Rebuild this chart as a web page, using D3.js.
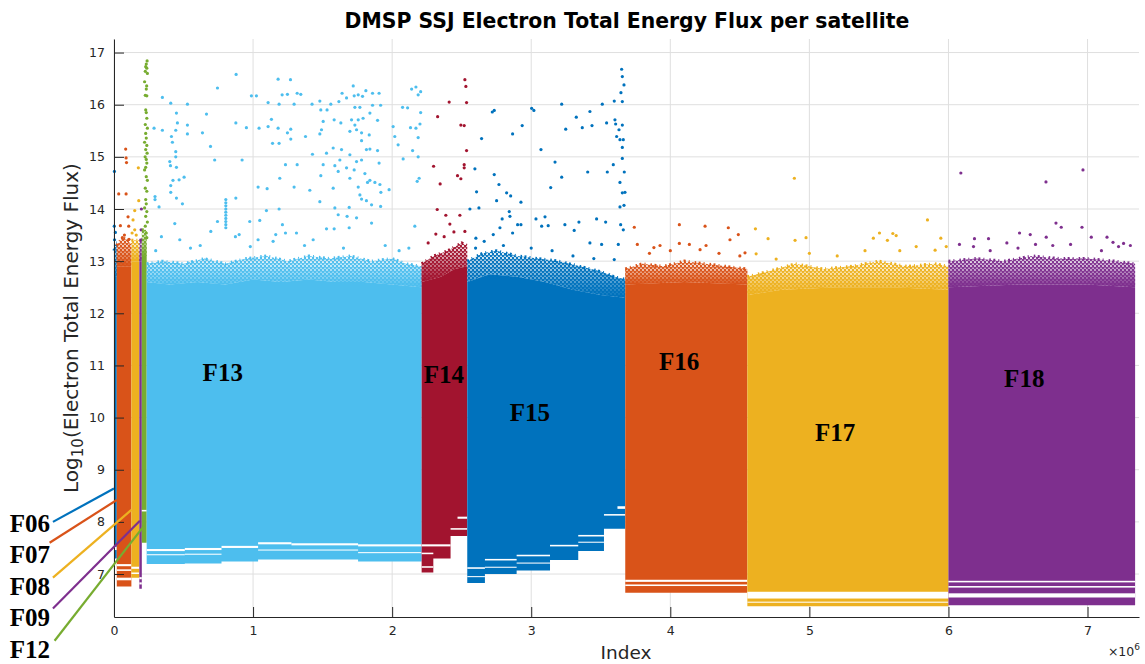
<!DOCTYPE html>
<html>
<head>
<meta charset="utf-8">
<script src="https://cdn.jsdelivr.net/npm/d3@7"></script>
<style>
  body { margin: 0; background: #fff; }
  text { font-family: "DejaVu Sans", sans-serif; fill: #262626; }
  .sat-label { font-family: "Liberation Serif", serif; font-weight: bold; font-size: 25px; fill: #000; }
  .tick text { font-size: 12.5px; }
</style>
</head>
<body>
<div id="chart"></div>
<script>
  // satellites, in index order (index in units of 1e6)
  var sats = ['F06', 'F07', 'F08', 'F09', 'F12', 'F13', 'F14', 'F15', 'F16', 'F17', 'F18'];
  var satColors = ['#0072BD', '#D95319', '#EDB120', '#7E2F8E', '#77AC30', '#4DBEEE',
                   '#A2142F', '#0072BD', '#D95319', '#EDB120', '#7E2F8E'];

  // top of the solid band: [index, log10 flux]
  var coreTops = [
    [[0, 12.7], [0.02, 12.7]],
    [[0.02, 12.9], [0.125, 12.9]],
    [[0.125, 13.0], [0.182, 13.0]],
    [[0.182, 13.0], [0.2, 13.0]],
    [[0.2, 13.1], [0.235, 13.1]],
    [[0.235, 12.6], [0.4, 12.55], [0.6, 12.6], [0.8, 12.55], [1.0, 12.65], [1.2, 12.6], [1.4, 12.65],
     [1.6, 12.6], [1.8, 12.6], [2.0, 12.55], [2.212, 12.5]],
    [[2.212, 12.6], [2.35, 12.7], [2.45, 12.85], [2.54, 12.9]],
    [[2.54, 12.6], [2.7, 12.75], [2.9, 12.7], [3.1, 12.6], [3.3, 12.45], [3.5, 12.35], [3.676, 12.3]],
    [[3.676, 12.55], [4.1, 12.6], [4.554, 12.55]],
    [[4.554, 12.35], [4.8, 12.45], [5.2, 12.5], [5.6, 12.5], [6.0, 12.45]],
    [[6.0, 12.5], [6.5, 12.55], [7.0, 12.55], [7.342, 12.5]]
  ];

  // upper edge of the speckled fringe above the solid band
  var fringeTops = [
    [[0, 13.2], [0.02, 13.4]],
    [[0.02, 13.3], [0.06, 13.45], [0.1, 13.4], [0.125, 13.3]],
    [[0.125, 13.4], [0.182, 13.4]],
    [[0.182, 13.4], [0.2, 13.4]],
    [[0.2, 13.6], [0.235, 13.6]],
    [[0.235, 12.95], [0.35, 13.0], [0.5, 12.95], [0.65, 13.05], [0.8, 12.95], [0.95, 13.05], [1.1, 13.1],
     [1.25, 13.0], [1.4, 13.1], [1.55, 13.05], [1.7, 13.1], [1.85, 13.0], [2.0, 13.05], [2.1, 12.95], [2.212, 12.9]],
    [[2.212, 12.95], [2.3, 13.1], [2.4, 13.2], [2.5, 13.35], [2.54, 13.3]],
    [[2.54, 13.0], [2.65, 13.15], [2.75, 13.2], [2.9, 13.1], [3.05, 13.05], [3.2, 13.0], [3.35, 12.9],
     [3.5, 12.8], [3.6, 12.7], [3.676, 12.65]],
    [[3.676, 12.85], [3.8, 12.95], [3.95, 12.9], [4.1, 13.0], [4.25, 12.95], [4.4, 12.9], [4.554, 12.85]],
    [[4.554, 12.7], [4.7, 12.8], [4.9, 12.95], [5.1, 12.85], [5.3, 12.9], [5.5, 13.0], [5.7, 12.9],
     [5.9, 12.95], [6.0, 12.9]],
    [[6.0, 13.0], [6.2, 13.05], [6.4, 13.0], [6.6, 13.1], [6.8, 13.05], [7.0, 13.05], [7.2, 13.0], [7.342, 12.95]]
  ];

  // lower floor steps: [index from, index to, lowest value]
  var floors = [
    [[0, 0.02, 7.3]],
    [[0.02, 0.125, 6.76]],
    [[0.125, 0.182, 6.93]],
    [[0.182, 0.2, 6.72]],
    [[0.2, 0.235, 7.6]],
    [[0.235, 0.509, 7.19], [0.509, 0.773, 7.2], [0.773, 1.036, 7.24], [1.036, 1.276, 7.28],
     [1.276, 1.755, 7.28], [1.755, 2.212, 7.24]],
    [[2.212, 2.296, 7.03], [2.296, 2.42, 7.3], [2.42, 2.54, 7.73]],
    [[2.54, 2.667, 6.83], [2.667, 2.895, 7.0], [2.895, 3.135, 7.07], [3.135, 3.338, 7.27],
     [3.338, 3.523, 7.44], [3.523, 3.676, 7.87]],
    [[3.676, 4.554, 6.64]],
    [[4.554, 6.0, 6.38]],
    [[6.0, 7.342, 6.4]]
  ];

  // empty bands inside the floor: [index from, index to, value low, value high]
  var gaps = [
    [[0, 0.02, 7.46, 7.52]],
    [[0.02, 0.125, 7.15, 7.19], [0.02, 0.125, 7.06, 7.09], [0.02, 0.125, 6.88, 6.93]],
    [[0.125, 0.182, 7.10, 7.14], [0.125, 0.182, 7.0, 7.03]],
    [[0.182, 0.2, 6.9, 6.94], [0.182, 0.2, 6.8, 6.84]],
    [[0.2, 0.235, 8.2, 8.23]],
    [[0.235, 0.509, 7.44, 7.48], [0.509, 0.773, 7.46, 7.5], [0.773, 1.036, 7.5, 7.54], [1.036, 1.276, 7.57, 7.61],
     [1.276, 1.755, 7.55, 7.59], [1.755, 2.212, 7.53, 7.57],
     [0.235, 0.509, 7.36, 7.38], [0.509, 0.773, 7.37, 7.39], [1.036, 1.755, 7.45, 7.47], [1.755, 2.212, 7.4, 7.42]],
    [[2.212, 2.42, 7.53, 7.57], [2.212, 2.296, 7.38, 7.41], [2.212, 2.296, 7.12, 7.15],
     [2.42, 2.54, 7.85, 7.88], [2.47, 2.54, 8.06, 8.1]],
    [[2.54, 2.667, 7.1, 7.13], [2.54, 2.667, 6.94, 6.96], [2.667, 2.895, 7.26, 7.29], [2.667, 2.895, 7.12, 7.14],
     [2.895, 3.135, 7.34, 7.37], [2.895, 3.135, 7.2, 7.22], [3.135, 3.338, 7.53, 7.56], [3.338, 3.523, 7.72, 7.75],
     [3.338, 3.523, 7.6, 7.62], [3.523, 3.676, 8.12, 8.15], [3.62, 3.676, 8.25, 8.3]],
    [[3.676, 4.554, 6.85, 6.89], [3.676, 4.554, 6.77, 6.8]],
    [[4.554, 6.0, 6.53, 6.66], [4.554, 6.0, 6.45, 6.47]],
    [[6.0, 7.342, 6.84, 6.87], [6.0, 7.342, 6.74, 6.77], [6.0, 7.342, 6.55, 6.63]]
  ];

  // isolated points above the bands: [index, value]
  var outliers = [
    [[0.003, 14.72], [0.002, 13.67], [0.004, 13.41], [0.01, 13.55]],
    [[0.084, 15.15], [0.087, 14.98], [0.09, 14.89], [0.034, 14.29], [0.087, 14.29], [0.101, 13.85],
     [0.046, 13.68], [0.106, 13.67], [0.108, 13.42], [0.06, 13.45], [0.075, 13.5]],
    [[0.175, 14.79], [0.178, 14.16], [0.149, 13.97], [0.137, 13.79], [0.149, 13.6], [0.13, 13.54], [0.16, 13.5]],
    [[0.197, 14.0], [0.195, 13.6], [0.198, 13.41]],
    [[0.238, 16.84], [0.232, 16.78], [0.228, 16.73], [0.236, 16.7], [0.225, 16.64], [0.24, 16.6], [0.22, 16.44],
     [0.235, 16.36], [0.232, 16.3], [0.225, 16.18], [0.236, 16.17], [0.228, 15.9], [0.232, 15.85], [0.236, 15.74],
     [0.225, 15.62], [0.24, 15.55], [0.228, 15.45], [0.232, 15.36], [0.22, 15.28], [0.236, 15.22], [0.228, 15.14],
     [0.238, 15.07], [0.224, 15.0], [0.232, 14.95], [0.236, 14.88], [0.228, 14.8], [0.22, 14.75], [0.232, 14.62],
     [0.24, 14.55], [0.225, 14.4], [0.236, 14.34], [0.228, 14.18], [0.232, 14.1], [0.22, 14.02], [0.236, 13.95],
     [0.228, 13.86], [0.24, 13.75], [0.225, 13.67], [0.232, 13.54], [0.236, 13.45]],
    [[0.878, 16.58], [0.744, 16.32], [0.348, 16.14], [0.408, 16.03], [0.528, 16.01], [0.449, 15.84], [0.665, 15.82],
     [0.288, 15.55], [0.348, 15.51], [0.413, 15.39], [0.444, 15.51], [0.456, 15.65], [0.528, 15.61], [0.528, 15.44],
     [0.636, 15.46], [0.42, 15.28], [0.401, 14.91], [0.406, 14.83], [0.444, 15.1], [0.444, 15.0], [0.449, 14.8],
     [0.424, 14.55], [0.468, 14.56], [0.504, 14.61], [0.408, 14.45], [0.408, 14.32], [0.449, 14.21], [0.492, 14.1],
     [0.295, 14.24], [0.295, 14.18], [0.324, 14.04], [0.694, 15.2], [0.724, 14.94], [0.921, 14.94], [0.876, 15.65],
     [0.952, 15.56], [0.876, 14.21], [0.988, 16.17], [1.024, 16.17], [1.108, 16.04], [1.18, 16.49], [1.269, 16.48],
     [1.209, 16.19], [1.247, 16.2], [1.317, 16.22], [1.343, 16.2], [1.187, 16.01], [1.295, 16.01], [1.043, 15.55],
     [1.108, 15.58], [1.132, 15.72], [1.18, 15.55], [1.247, 15.46], [1.271, 15.53], [1.14, 15.26], [1.187, 15.26],
     [1.271, 15.34], [1.377, 15.39], [1.233, 14.85], [1.317, 14.85], [1.192, 14.59], [1.036, 14.42], [1.101, 14.39],
     [1.295, 14.42], [1.187, 14.0], [1.096, 13.97], [1.408, 14.36], [1.427, 15.05], [1.48, 16.07], [1.424, 16.01],
     [1.487, 15.9], [1.532, 15.9], [1.559, 16.01], [1.617, 16.06], [1.64, 16.22], [1.672, 16.13], [1.72, 16.36],
     [1.727, 16.17], [1.756, 16.19], [1.787, 16.16], [1.811, 16.27], [1.859, 16.22], [1.906, 16.22], [1.917, 15.99],
     [1.859, 15.99], [1.732, 15.95], [1.768, 15.95], [1.504, 15.68], [1.583, 15.71], [1.631, 15.65], [1.708, 15.71],
     [1.732, 15.61], [1.756, 15.71], [1.791, 15.74], [1.84, 15.84], [1.895, 15.7], [1.696, 15.49], [1.744, 15.52],
     [1.78, 15.46], [1.835, 15.42], [1.492, 15.52], [1.48, 15.44], [1.576, 15.17], [1.636, 15.14], [1.528, 15.07],
     [1.696, 15.04], [1.78, 15.31], [1.815, 15.14], [1.84, 15.15], [1.895, 15.12], [1.78, 14.94], [1.906, 14.88],
     [1.504, 14.85], [1.588, 14.83], [1.624, 14.94], [1.744, 14.91], [1.612, 14.72], [1.672, 14.79], [1.727, 14.75],
     [1.804, 14.68], [1.84, 14.55], [1.487, 14.64], [1.696, 14.59], [1.823, 14.51], [1.876, 14.51], [1.912, 14.47],
     [1.576, 14.4], [1.756, 14.42], [1.919, 14.32], [1.768, 14.27], [1.78, 14.19], [1.852, 14.08], [1.815, 14.16],
     [1.917, 14.05], [1.588, 14.02], [1.691, 14.03], [1.48, 14.14], [1.612, 13.89], [1.676, 13.86], [1.744, 13.83],
     [1.978, 14.37], [2.007, 15.58], [2.019, 15.39], [2.043, 15.23], [2.079, 14.96], [2.075, 15.95], [2.111, 15.94],
     [2.132, 15.56], [2.171, 15.55], [2.171, 16.34], [2.14, 16.3], [2.187, 16.19], [2.205, 16.25], [2.2, 15.63],
     [2.205, 15.85], [2.187, 15.37], [2.147, 15.12], [2.187, 15.0], [2.194, 14.59], [2.18, 14.53], [2.163, 13.67],
     [0.804, 14.18], [0.804, 14.12], [0.804, 14.06], [0.804, 14.0], [0.804, 13.94], [0.804, 13.88], [0.804, 13.82],
     [0.804, 13.76], [0.804, 13.7], [0.804, 13.64], [0.437, 13.72], [0.341, 13.47], [0.473, 13.41], [0.696, 13.57],
     [0.744, 13.76], [0.873, 13.47], [0.976, 13.76], [1.048, 13.78], [1.211, 13.7], [1.233, 13.54], [1.312, 13.54],
     [1.432, 13.41], [1.528, 13.62], [1.583, 13.62], [1.691, 13.64], [1.852, 13.73], [1.163, 13.51], [1.036, 13.41],
     [1.144, 13.38], [0.9, 13.51], [0.3, 13.2], [0.55, 13.25], [0.62, 13.3], [0.98, 13.28], [1.37, 13.3],
     [1.65, 13.25], [1.95, 13.3], [2.05, 13.2], [2.12, 13.25]],
    [[2.523, 16.48], [2.53, 16.35], [2.41, 16.05], [2.535, 16.04], [2.327, 15.77], [2.494, 15.61], [2.518, 15.6],
     [2.535, 15.12], [2.298, 14.82], [2.518, 14.85], [2.518, 14.79], [2.47, 14.64], [2.494, 14.58], [2.345, 14.48],
     [2.324, 13.99], [2.386, 13.88], [2.487, 13.88], [2.415, 13.71], [2.314, 13.52], [2.374, 13.47], [2.444, 13.56],
     [2.523, 13.57], [2.259, 13.35]],
    [[2.72, 15.86], [2.734, 15.89], [2.935, 15.6], [2.866, 15.44], [2.643, 15.35], [2.595, 14.77], [2.734, 14.66],
     [2.768, 14.47], [2.607, 14.33], [2.823, 14.31], [2.852, 14.25], [2.751, 14.16], [2.926, 14.13], [2.559, 14.0],
     [2.624, 14.02], [3.003, 15.93], [3.019, 15.89], [3.219, 16.01], [3.324, 15.76], [3.422, 15.87], [3.248, 15.53],
     [3.367, 15.56], [3.437, 15.6], [3.511, 16.01], [3.597, 16.07], [3.542, 15.65], [3.602, 15.71], [3.607, 15.63],
     [3.65, 16.68], [3.655, 16.54], [3.667, 16.38], [3.645, 16.23], [3.655, 16.06], [3.655, 15.61], [3.631, 15.52],
     [3.614, 15.39], [3.638, 15.33], [3.662, 15.33], [3.655, 15.18], [3.655, 14.97], [3.07, 15.14], [3.171, 14.9],
     [3.406, 14.71], [3.547, 14.71], [3.59, 14.85], [3.669, 14.71], [3.219, 14.61], [3.14, 14.41], [3.638, 14.51],
     [3.655, 14.31], [3.674, 14.32], [3.638, 14.04], [3.667, 14.07], [3.034, 13.81], [3.099, 13.85], [3.075, 13.67],
     [3.122, 13.68], [3.242, 13.7], [3.343, 13.75], [3.309, 13.59], [3.47, 13.81], [3.535, 13.75], [3.643, 13.7],
     [3.662, 13.6], [2.842, 13.95], [2.847, 13.86], [2.791, 13.81], [2.902, 13.7], [2.926, 13.7], [2.775, 13.64],
     [2.727, 13.51], [2.866, 13.54], [2.602, 13.44], [2.662, 13.38], [3.422, 13.35], [3.506, 13.32], [3.626, 13.32],
     [3.597, 13.03], [2.6, 13.25], [2.8, 13.3], [3.0, 13.25], [3.15, 13.2], [3.3, 13.1], [3.45, 13.05]],
    [[3.741, 13.65], [4.065, 13.7], [4.25, 13.67], [4.417, 13.64], [4.489, 13.51], [4.429, 13.41], [3.763, 13.32],
     [4.065, 13.34], [4.137, 13.32], [4.257, 13.3], [3.882, 13.26], [3.926, 13.3], [4.537, 13.16], [4.214, 13.22],
     [3.85, 13.15], [4.0, 13.2], [4.35, 13.15], [4.5, 13.1]],
    [[4.892, 14.59], [5.849, 13.79], [4.612, 13.62], [4.703, 13.43], [4.897, 13.4], [4.976, 13.45], [5.504, 13.54],
     [5.46, 13.44], [5.6, 13.53], [5.624, 13.49], [5.561, 13.4], [5.945, 13.44], [5.768, 13.28], [5.904, 13.21],
     [5.984, 13.28], [4.617, 13.14], [4.761, 13.04], [5.0, 13.15], [5.2, 13.1], [5.4, 13.2], [5.65, 13.2]],
    [[6.089, 14.69], [6.701, 14.52], [6.967, 14.75], [6.773, 13.73], [6.811, 13.65], [6.96, 13.65], [6.511, 13.54],
     [6.588, 13.51], [6.187, 13.43], [6.288, 13.43], [6.42, 13.35], [6.703, 13.46], [7.027, 13.46], [7.14, 13.46],
     [7.183, 13.36], [7.259, 13.34], [7.308, 13.3], [6.079, 13.32], [6.18, 13.28], [7.223, 13.28], [6.626, 13.32],
     [6.878, 13.32], [6.3, 13.2], [6.5, 13.25], [6.75, 13.3], [7.1, 13.2]]
  ];

  // satellite labels: [index, value] of the text anchor
  var labelPos = [[-0.75, 7.8], [-0.75, 7.21], [-0.75, 6.6], [-0.75, 6.0], [-0.75, 5.39],
                  [0.782, 10.7], [2.372, 10.66], [2.99, 9.93], [4.063, 10.91], [5.185, 9.55], [6.545, 10.58]];
  // leader lines for the thin early satellites: [index, value] -> [index, value]
  var leaders = [[-0.439, 8.0, 0.0, 8.64], [-0.463, 7.6, 0.02, 8.42], [-0.439, 6.93, 0.125, 8.23],
                 [-0.439, 6.34, 0.186, 8.02], [-0.427, 5.72, 0.214, 7.92]];

  var yTicks = [7, 8, 9, 10, 11, 12, 13, 14, 15, 16, 17];
  var xTicks = [0, 1, 2, 3, 4, 5, 6, 7];

  var margin = { top: 39, right: 6, bottom: 47, left: 114 };
  var width = 1145 - margin.left - margin.right;
  var height = 664 - margin.top - margin.bottom;

  var svg = d3.select('#chart')
    .append('svg')
    .attr('width', 1145)
    .attr('height', 664);

  var g = svg.append('g')
    .attr('transform', 'translate(' + margin.left + ',' + margin.top + ')');

  var x = d3.scaleLinear().domain([0, 7.37]).range([0, width]);
  var y = d3.scaleLinear().domain([6.176, 17.26]).range([height, 0]);

  // dot patterns and fade gradients for the speckled fringe
  var defs = svg.append('defs');
  var uniq = Array.from(new Set(satColors));
  uniq.forEach(function(c) {
    var p = defs.append('pattern')
      .attr('id', 'dots' + c.slice(1))
      .attr('patternUnits', 'userSpaceOnUse')
      .attr('width', 4).attr('height', 4);
    p.append('circle').attr('cx', 1).attr('cy', 1).attr('r', 1.15).attr('fill', c);
    p.append('circle').attr('cx', 3).attr('cy', 3).attr('r', 1.15).attr('fill', c);
    p.append('circle').attr('cx', 3).attr('cy', 0.6).attr('r', 0.7).attr('fill', c);
    var lg = defs.append('linearGradient')
      .attr('id', 'fade' + c.slice(1))
      .attr('x1', 0).attr('y1', 1).attr('x2', 0).attr('y2', 0);
    lg.append('stop').attr('offset', 0).attr('stop-color', c).attr('stop-opacity', 1);
    lg.append('stop').attr('offset', 0.45).attr('stop-color', c).attr('stop-opacity', 0.55);
    lg.append('stop').attr('offset', 1).attr('stop-color', c).attr('stop-opacity', 0);
  });

  // grid
  g.append('g').selectAll('line').data(yTicks).enter().append('line')
    .attr('x1', 0).attr('x2', width)
    .attr('y1', function(d) { return y(d); }).attr('y2', function(d) { return y(d); })
    .attr('stroke', '#dfdfdf');
  g.append('g').selectAll('line').data(xTicks).enter().append('line')
    .attr('y1', 0).attr('y2', height)
    .attr('x1', function(d) { return x(d); }).attr('x2', function(d) { return x(d); })
    .attr('stroke', '#dfdfdf');

  var line = d3.line();

  sats.forEach(function(name, i) {
    var col = satColors[i];
    var layer = g.append('g').attr('class', 'sat ' + name);

    // solid body: top profile then the stepped floor back to the start
    var pts = coreTops[i].map(function(p) { return [x(p[0]), y(p[1])]; });
    floors[i].slice().reverse().forEach(function(s) {
      pts.push([x(s[1]), y(s[2])]);
      pts.push([x(s[0]), y(s[2])]);
    });
    layer.append('path').attr('d', line(pts) + 'Z').attr('fill', col);

    // speckled fringe: dots plus a fade from the solid body
    var fr = fringeTops[i].map(function(p) { return [x(p[0]), y(p[1])]; });
    coreTops[i].slice().reverse().forEach(function(p) { fr.push([x(p[0]), y(p[1])]); });
    var frPath = line(fr) + 'Z';
    layer.append('path').attr('d', frPath)
      .attr('fill', 'url(#dots' + col.slice(1) + ')');
    layer.append('path').attr('d', frPath)
      .attr('fill', 'url(#fade' + col.slice(1) + ')');
    layer.append('path')
      .attr('d', line(fringeTops[i].map(function(p) { return [x(p[0]), y(p[1])]; })))
      .attr('fill', 'none').attr('stroke', col)
      .attr('stroke-width', 3).attr('stroke-dasharray', '2 3 1 5 1.5 2.5');

    // empty bands in the floor
    layer.selectAll('rect.gap').data(gaps[i]).enter().append('rect')
      .attr('class', 'gap')
      .attr('x', function(d) { return x(d[0]); })
      .attr('width', function(d) { return x(d[1]) - x(d[0]); })
      .attr('y', function(d) { return y(d[3]); })
      .attr('height', function(d) { return y(d[2]) - y(d[3]); })
      .attr('fill', '#fff');

    layer.selectAll('circle').data(outliers[i]).enter().append('circle')
      .attr('cx', function(d) { return x(d[0]); })
      .attr('cy', function(d) { return y(d[1]); })
      .attr('r', 1.6)
      .attr('fill', col);
  });

  // axes
  var yAxis = g.append('g')
    .call(d3.axisLeft(y).tickValues(yTicks).tickSize(-10).tickSizeOuter(0).tickPadding(9));
  var xAxis = g.append('g')
    .attr('transform', 'translate(0,' + height + ')')
    .call(d3.axisBottom(x).tickValues(xTicks).tickSize(-10).tickSizeOuter(0).tickPadding(9));
  [yAxis, xAxis].forEach(function(a) {
    a.select('.domain').attr('stroke', '#262626');
    a.selectAll('.tick line').attr('stroke', '#262626');
    a.selectAll('.tick text').attr('fill', '#262626').style('font-family', '"DejaVu Sans", sans-serif');
  });

  // leader lines and satellite labels
  g.append('g').selectAll('line').data(leaders).enter().append('line')
    .attr('x1', function(d) { return x(d[0]); }).attr('y1', function(d) { return y(d[1]); })
    .attr('x2', function(d) { return x(d[2]); }).attr('y2', function(d) { return y(d[3]); })
    .attr('stroke', function(d, i) { return satColors[i]; })
    .attr('stroke-width', 2.2);

  g.append('g').selectAll('text').data(sats).enter().append('text')
    .attr('class', 'sat-label')
    .attr('x', function(d, i) { return x(labelPos[i][0]); })
    .attr('y', function(d, i) { return y(labelPos[i][1]); })
    .attr('text-anchor', function(d, i) { return i < 5 ? 'start' : 'middle'; })
    .text(function(d) { return d; });

  // titles
  svg.append('text')
    .attr('x', 627).attr('y', 28)
    .attr('text-anchor', 'middle')
    .style('font-size', '20.4px').style('font-weight', 'bold').style('fill', '#000')
    .text('DMSP SSJ Electron Total Energy Flux per satellite');

  svg.append('text')
    .attr('x', 626).attr('y', 659)
    .attr('text-anchor', 'middle')
    .style('font-size', '18.5px')
    .text('Index');

  var yl = svg.append('text')
    .attr('transform', 'translate(78,' + (margin.top + height / 2) + ') rotate(-90)')
    .attr('text-anchor', 'middle')
    .style('font-size', '20px');
  yl.append('tspan').text('Log');
  yl.append('tspan').attr('dy', 5).style('font-size', '15px').text('10');
  yl.append('tspan').attr('dy', -5).text('(Electron Total Energy Flux)');

  var ex = svg.append('text')
    .attr('x', 1140).attr('y', 656)
    .attr('text-anchor', 'end')
    .style('font-size', '12.5px');
  ex.append('tspan').text('\u00d710');
  ex.append('tspan').attr('dy', -6).style('font-size', '9px').text('6');
</script>
</body>
</html>
